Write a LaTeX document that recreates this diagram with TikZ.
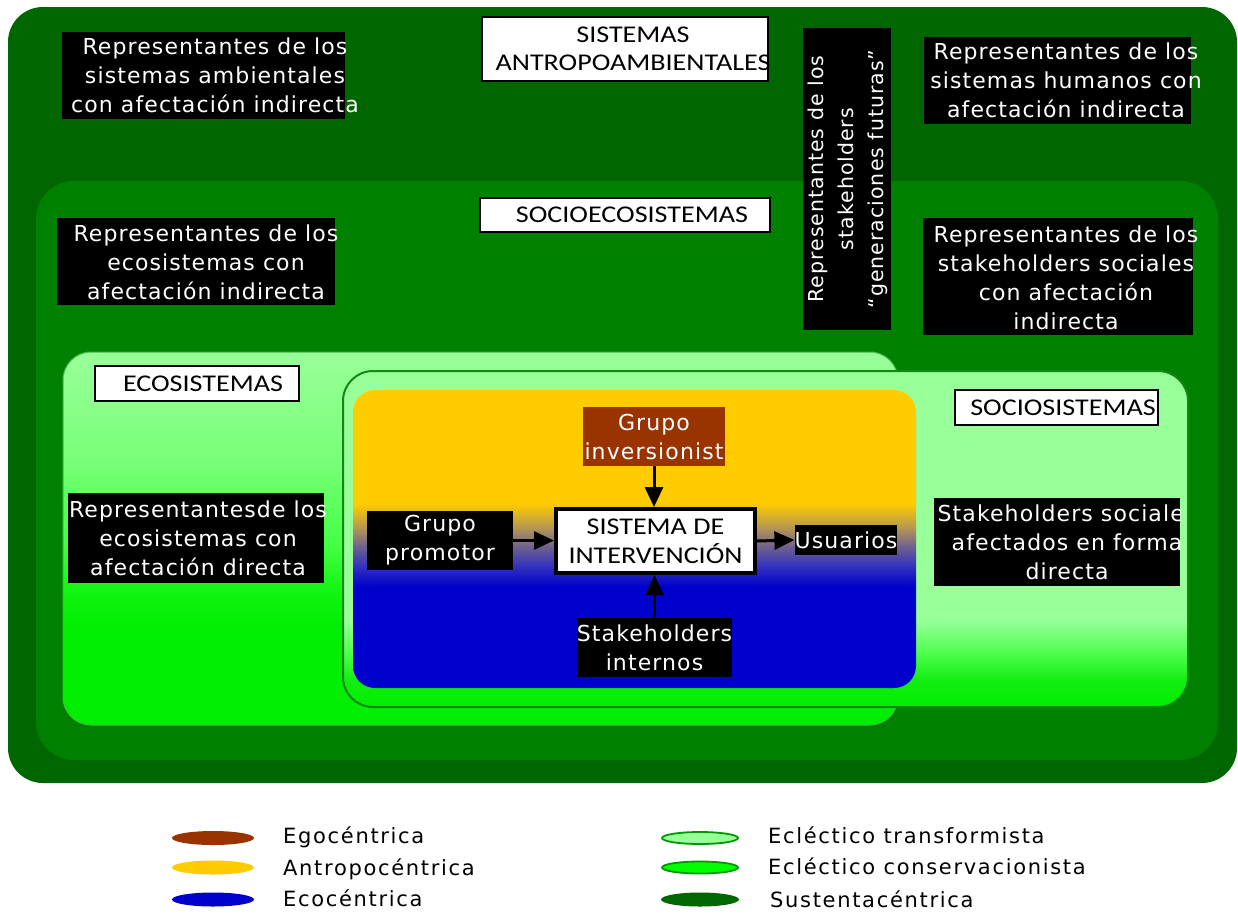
\documentclass[tikz,border=0pt]{standalone}
\usepackage{fontspec}
\setmainfont{DejaVu Sans}
\newfontfamily\boxfont[LetterSpace=5]{DejaVu Sans}
\newfontfamily\legfont[LetterSpace=8]{DejaVu Sans}
\newfontfamily\labfont[FakeStretch=1.17]{Carlito}
\usetikzlibrary{arrows.meta}
\definecolor{dkgreen}{HTML}{006600}
\definecolor{midgreen}{HTML}{008000}
\definecolor{ltgreen}{HTML}{99FF99}
\definecolor{brgreen}{HTML}{00EE00}
\definecolor{gA}{HTML}{11F511}
\definecolor{gB}{HTML}{44FF44}
\definecolor{gC}{HTML}{5FFF5F}
\definecolor{gE}{HTML}{77FF77}
\definecolor{gF}{HTML}{8AFF8A}
\definecolor{gD}{HTML}{11EE11}
\definecolor{gG}{HTML}{55FF55}
\definecolor{ecoedge}{HTML}{44BB44}
\definecolor{socedge}{HTML}{118811}
\definecolor{legedge}{HTML}{009900}
\definecolor{egobrown}{HTML}{993300}
\definecolor{antroyel}{HTML}{FFCC00}
\definecolor{ecoblue}{HTML}{0000CC}
\definecolor{cA}{HTML}{B89850}
\definecolor{cB}{HTML}{706090}
\definecolor{cC}{HTML}{3030C0}
\definecolor{fullgreen}{HTML}{00FF00}
\pgfdeclareverticalshading{ecoshade}{100bp}{color(0bp)=(brgreen); color(25bp)=(brgreen); color(38bp)=(brgreen); color(43bp)=(gA); color(49bp)=(gB); color(55bp)=(gC); color(60bp)=(gE); color(68bp)=(gF); color(75bp)=(ltgreen); color(100bp)=(ltgreen)}
\pgfdeclareverticalshading{socshade}{100bp}{color(0bp)=(brgreen); color(25bp)=(brgreen); color(29bp)=(gD); color(33.5bp)=(gG); color(38bp)=(ltgreen); color(100bp)=(ltgreen)}
\pgfdeclareverticalshading{coreshade}{100bp}{color(0bp)=(ecoblue); color(25bp)=(ecoblue); color(42bp)=(ecoblue); color(45.3bp)=(cC); color(48.7bp)=(cB); color(52bp)=(cA); color(56bp)=(antroyel); color(100bp)=(antroyel)}
\tikzset{
  labbox/.style={fill=white, draw=black, line width=2.5pt},
  labtxt/.style={font=\labfont\fontsize{24pt}{28pt}\selectfont, align=center, inner sep=0pt, text=black},
  wtxt/.style={text=white, font=\boxfont\fontsize{22pt}{29pt}\selectfont, align=center, inner sep=0pt},
  blk/.style={fill=black, text=white, font=\boxfont\fontsize{22pt}{29pt}\selectfont, align=center, inner sep=0pt},
  sisbox/.style={fill=white, draw=black, line width=4pt, minimum width=199pt, minimum height=64pt, inner sep=0pt, align=center, font=\labfont\fontsize{24pt}{29pt}\selectfont},
  arr/.style={-{Triangle[length=20pt,width=18pt]}, line width=3pt},
  legtxt/.style={font=\legfont\fontsize{21pt}{24pt}\selectfont, anchor=base west, inner sep=0pt, text=black},
}
\begin{document}
\begin{tikzpicture}[x=1pt,y=-1pt]
\useasboundingbox (0,0) rectangle (1238,913);
\fill[white] (0,0) rectangle (1238,913);
% nested systems
\fill[dkgreen, rounded corners=35pt] (8,7) rectangle (1237,783);
\fill[midgreen, rounded corners=38pt] (36,181) rectangle (1218,760);
\path[shade, shading=ecoshade, draw=ecoedge, line width=1pt, rounded corners=28pt] (63,352) rectangle (898,725);
\path[shade, shading=socshade, draw=socedge, line width=2pt, rounded corners=30pt] (343,371) rectangle (1188,707);
\path[shade, shading=coreshade, rounded corners=22pt] (353,390) rectangle (916,688);
% titles
\draw[labbox] (482,17) rectangle (768,81);
\node[labtxt] (tsa) at (633,49) {SISTEMAS\\ANTROPOAMBIENTALES};
\draw[labbox] (480,198) rectangle (770,232);
\node[labtxt] (tse) at (632,215) {SOCIOECOSISTEMAS};
\draw[labbox] (95,366) rectangle (299,401);
\node[labtxt] (tec) at (203,383.5) {ECOSISTEMAS};
\draw[labbox] (955,390) rectangle (1158,425);
\node[labtxt] (tso) at (1063,407.5) {SOCIOSISTEMAS};
% black boxes
\fill[black] (62,32) rectangle (345,119);
\node[wtxt] (b1) at (215,75.5) {Representantes de los\\sistemas ambientales\\con afectación indirecta};
\fill[black] (924,37) rectangle (1191,124);
\node[wtxt] (b2) at (1066,80.5) {Representantes de los\\sistemas humanos con\\afectación indirecta};
\fill[black] (57,218) rectangle (335,305);
\node[wtxt] (b3) at (206,262) {Representantes de los\\ecosistemas con\\afectación indirecta};
\fill[black] (923,218) rectangle (1193,335);
\node[wtxt] (b4) at (1066,277.5) {Representantes de los\\stakeholders sociales\\con afectación\\indirecta};
\fill[black] (803,28) rectangle (891,330);
\node[wtxt, font=\boxfont\fontsize{20.5pt}{30pt}\selectfont, rotate=90] (b7) at (848,179) {Representantes de los\\stakeholders\\“generaciones futuras”};
\fill[black] (68,493) rectangle (324,583);
\node[wtxt] (b5) at (198,538) {Representantesde los\\ecosistemas con\\afectación directa};
\begin{scope}
\clip (934,498) rectangle (1180,586);
\fill[black] (934,498) rectangle (1180,586);
\node[wtxt] (b6) at (1067,542) {Stakeholders sociales\\afectados en forma\\directa};
\end{scope}
% core nodes
\node[blk, fill=egobrown, minimum width=142pt, minimum height=59pt] (inv) at (654,436.5) {Grupo\\inversionist};
\node[blk, minimum width=146pt, minimum height=59pt] (prom) at (440,540.5) {Grupo\\promotor};
\node[sisbox] (sis) at (655.5,541) {SISTEMA DE\\INTERVENCIÓN};
\node[blk, minimum width=102pt, minimum height=30pt] (usu) at (846,540) {Usuarios};
\node[blk, minimum width=149pt, minimum height=59pt] (stk) at (654.5,647.5) {Stakeholders\\internos};
\draw[arr] (inv.south) -- (inv.south |- sis.north);
\draw[arr] (prom.east) -- (prom.east -| sis.west);
\draw[arr] (sis.east) -- (usu.west);
\draw[arr] (stk.north) -- (stk.north |- sis.south);
% legend
\fill[egobrown] (213,838) ellipse [x radius=41pt, y radius=7pt];
\fill[antroyel] (213,867.5) ellipse [x radius=41pt, y radius=7pt];
\fill[ecoblue] (213,899.5) ellipse [x radius=41pt, y radius=7pt];
\filldraw[fill=ltgreen, draw=legedge, line width=1.8pt] (700,838) ellipse [x radius=38pt, y radius=6pt];
\filldraw[fill=fullgreen, draw=legedge, line width=1.8pt] (700,867.5) ellipse [x radius=38pt, y radius=6pt];
\fill[dkgreen] (700,899.5) ellipse [x radius=39pt, y radius=7pt];
\node[legtxt] (l1) at (283,843) {Egocéntrica};
\node[legtxt] (l2) at (283,875) {Antropocéntrica};
\node[legtxt] (l3) at (283,906) {Ecocéntrica};
\node[legtxt] (l4) at (768,843) {Ecléctico transformista};
\node[legtxt] (l5) at (768,874) {Ecléctico conservacionista};
\node[legtxt] (l6) at (770,907) {Sustentacéntrica};
\end{tikzpicture}
\end{document}
